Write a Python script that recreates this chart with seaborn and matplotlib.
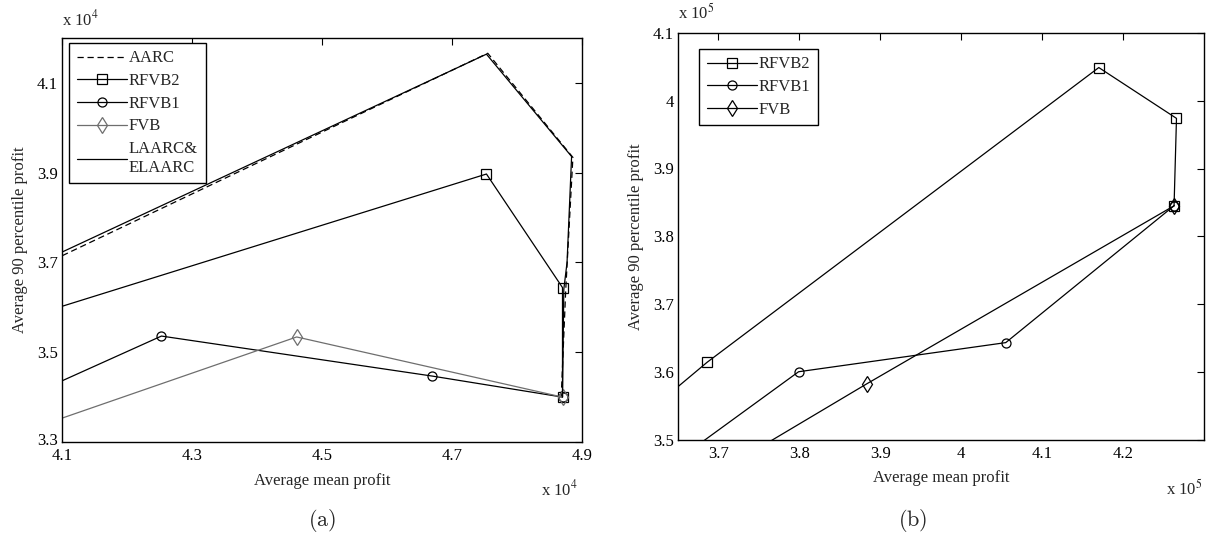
import numpy as np
import pandas as pd
import matplotlib
matplotlib.use("Agg")
import matplotlib.pyplot as plt
import matplotlib.transforms as mtransforms
import seaborn as sns

# ---------------- data (panel a, units of 1e4) ----------------
aarc_x = [3.90, 4.755, 4.886, 4.875, 4.868]
aarc_y = [3.577, 4.166, 3.934, 3.64, 3.40]
laarc_x = [3.90, 4.753, 4.884, 4.877, 4.872, 4.870]
laarc_y = [3.588, 4.164, 3.936, 3.70, 3.64, 3.40]
rfvb2_a_x = [3.90, 4.753, 4.870, 4.870]
rfvb2_a_y = [3.512, 3.897, 3.644, 3.40]
rfvb1_a_x = [4.00, 4.253, 4.669, 4.870]
rfvb1_a_y = [3.371, 3.536, 3.447, 3.40]
fvb_a_x = [4.00, 4.461, 4.870]
fvb_a_y = [3.303, 3.534, 3.40]

# ---------------- data (panel b, units of 1e5) ----------------
rfvb2_b_x = [3.60, 3.686, 4.170, 4.266, 4.263]
rfvb2_b_y = [3.528, 3.614, 4.049, 3.974, 3.845]
rfvb1_b_x = [3.60, 3.799, 4.055, 4.263]
rfvb1_b_y = [3.427, 3.600, 3.643, 3.845]
fvb_b_x = [3.70, 3.883, 4.263]
fvb_b_y = [3.452, 3.582, 3.845]

xticks_a = [4.1, 4.3, 4.5, 4.7, 4.9]
yticks_a = [3.3, 3.5, 3.7, 3.9, 4.1]
xticks_b = [3.7, 3.8, 3.9, 4.0, 4.1, 4.2]
yticks_b = [3.5, 3.6, 3.7, 3.8, 3.9, 4.0, 4.1]

sns.set_style("white")
plt.rcParams['font.family'] = ['Liberation Serif', 'DejaVu Serif']
plt.rcParams['mathtext.fontset'] = 'stix'

W, H = 1206, 538
fig = plt.figure(figsize=(W / 100, H / 100), dpi=100)


def px_axes(l, t, r, b):
    return fig.add_axes([l / W, 1 - b / H, (r - l) / W, (b - t) / H])


axa = px_axes(62, 38, 582, 442)
axb = px_axes(678, 33, 1204, 439.5)

FS = 12
lw = 0.9
gray = '#6e6e6e'


def draw(ax, x, y, label, color='k', marker=None, ls='-', ms=7):
    df = pd.DataFrame({'x': x, 'y': y})
    kw = dict(color=color, lw=lw, linestyle=ls)
    if marker is not None:
        kw.update(marker=marker, markersize=ms, markerfacecolor='none',
                  markeredgecolor=color, markeredgewidth=0.9)
    sns.lineplot(data=df, x='x', y='y', sort=False, estimator=None, ax=ax,
                 label=label, **kw)


# panel a
draw(axa, aarc_x, aarc_y, 'AARC', ls=(0, (5, 3)))
draw(axa, rfvb2_a_x, rfvb2_a_y, 'RFVB2', marker='s', ms=7)
draw(axa, rfvb1_a_x, rfvb1_a_y, 'RFVB1', marker='o', ms=6.5)
draw(axa, fvb_a_x, fvb_a_y, 'FVB', color=gray, marker='d', ms=8)
draw(axa, laarc_x, laarc_y, 'LAARC&\nELAARC')

# panel b
draw(axb, rfvb2_b_x, rfvb2_b_y, 'RFVB2', marker='s', ms=7)
draw(axb, rfvb1_b_x, rfvb1_b_y, 'RFVB1', marker='o', ms=6.5)
draw(axb, fvb_b_x, fvb_b_y, 'FVB', marker='d', ms=8)


def style(ax, xlim, ylim, xt, yt, xtl, ytl):
    ax.set_xlim(*xlim)
    ax.set_ylim(*ylim)
    ax.set_xticks(xt)
    ax.set_yticks(yt)
    ax.set_xticklabels(xtl)
    ax.set_yticklabels(ytl)
    ax.tick_params(direction='in', length=5, width=0.8, top=True, right=True,
                   labelsize=FS, colors='k', pad=3)
    ax.tick_params(axis='x', pad=4.5)
    for s in ax.spines.values():
        s.set_visible(True)
        s.set_color('k')
        s.set_linewidth(1.0)
    ax.set_xlabel('Average mean profit', fontsize=FS, labelpad=6)
    ax.set_ylabel('Average 90 percentile profit', fontsize=FS, labelpad=6)


style(axa, (4.1, 4.9), (3.3, 4.2), xticks_a, yticks_a,
      ['4.1', '4.3', '4.5', '4.7', '4.9'], ['3.3', '3.5', '3.7', '3.9', '4.1'])
style(axb, (3.65, 4.3), (3.5, 4.1), xticks_b, yticks_b,
      ['3.7', '3.8', '3.9', '4', '4.1', '4.2'],
      ['3.5', '3.6', '3.7', '3.8', '3.9', '4', '4.1'])

# lift the bottom y tick label of panel a slightly (as in the reference)
lab = axa.get_yticklabels()[0]
lab.set_transform(lab.get_transform() +
                  mtransforms.ScaledTranslation(0, 3 / 100, fig.dpi_scale_trans))

for ax, anchor in [(axa, (7 / 520, 1 - 5 / 404)), (axb, (21 / 526, 1 - 16 / 406.5))]:
    leg = ax.legend(loc='upper left', bbox_to_anchor=anchor, borderaxespad=0,
                    fontsize=FS, frameon=True, fancybox=False, framealpha=1,
                    edgecolor='k', handlelength=3.0, handletextpad=0.15,
                    borderpad=0.45, labelspacing=0.40)
    leg.get_frame().set_linewidth(1.0)

# multipliers
fig.text(62 / W, 1 - 19 / H, r'x 10$^{4}$', fontsize=FS, ha='left', va='center')
fig.text(578 / W, 1 - 489 / H, r'x 10$^{4}$', fontsize=FS, ha='right', va='center')
fig.text(678 / W, 1 - 13 / H, r'x 10$^{5}$', fontsize=FS, ha='left', va='center')
fig.text(1203 / W, 1 - 489 / H, r'x 10$^{5}$', fontsize=FS, ha='right', va='center')

# captions
fig.text(322 / W, 1 - 521 / H, r'$\mathrm{(a)}$', fontsize=16, ha='center',
         va='center', math_fontfamily='cm')
fig.text(913 / W, 1 - 521 / H, r'$\mathrm{(b)}$', fontsize=16, ha='center',
         va='center', math_fontfamily='cm')

fig.savefig('out.png', dpi=100)
